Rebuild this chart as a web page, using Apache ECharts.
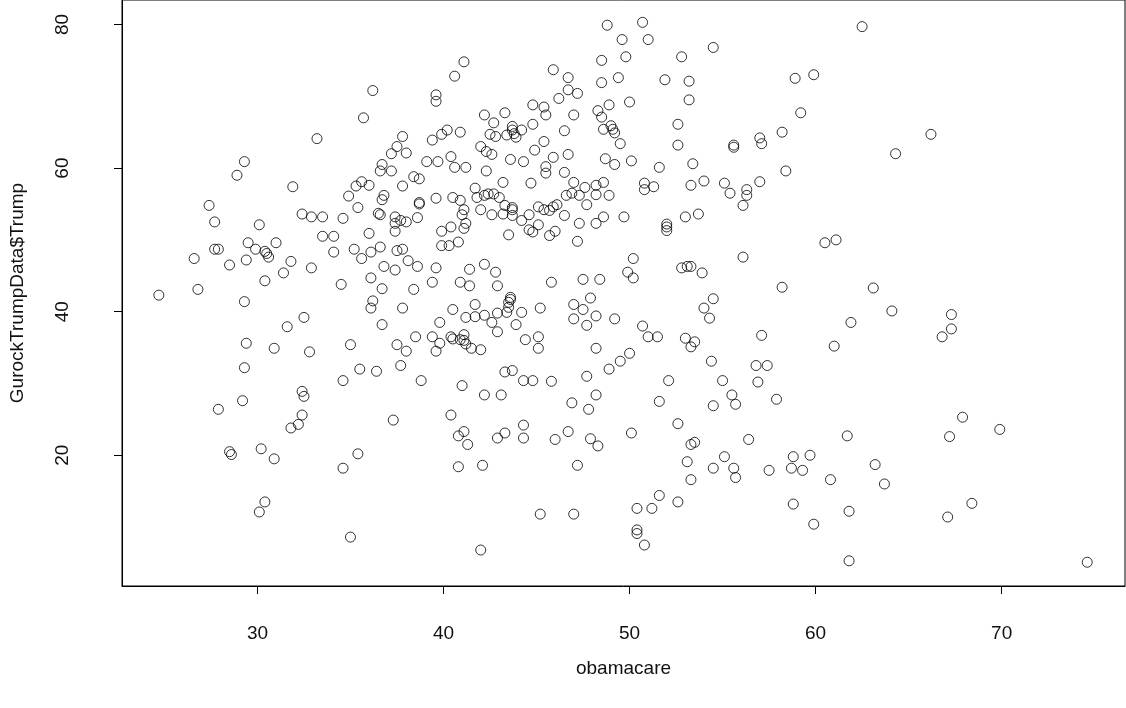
<!DOCTYPE html>
<html>
<head>
<meta charset="utf-8">
<script src="https://cdn.jsdelivr.net/npm/echarts@6/dist/echarts.min.js"></script>
<style>
html,body{margin:0;padding:0;background:#fff;}
#chart{width:1126px;height:708px;}
</style>
</head>
<body>
<div id="chart"></div>
<script>
// x values: obamacare
const obamacare = [
36.2,35.7,33.2,29.3,28.9,31.9,35.3,35.6,36.0,
48.8,49.6,48.5,49.4,48.5,45.9,46.7,46.7,47.2,46.2,41.1,40.6,39.6,39.6,44.8,45.4,45.5,47.0,48.9,48.3,48.5,
42.2,43.3,42.7,42.5,42.8,43.7,43.4,43.7,43.8,43.9,44.2,44.8,46.5,48.6,49.0,49.1,49.2,49.5,40.2,39.9,39.4,40.9,
37.8,37.5,37.2,38.0,36.7,36.6,37.2,37.8,38.4,38.7,39.1,39.7,40.4,40.6,41.2,42.0,42.3,42.6,42.3,41.7,43.2,43.6,
44.3,44.9,45.4,45.9,45.5,45.5,46.7,46.5,47.0,44.7,48.7,49.2,47.6,48.2,48.6,
50.7,51.0,49.8,52.8,54.5,62.5,51.9,53.2,58.9,59.9,50.0,53.2,59.2,52.6,58.2,57.0,57.1,55.6,55.6,52.6,50.1,51.6,
53.4,58.4,50.8,50.8,51.3,53.3,54.0,55.1,56.3,57.0,
66.2,64.3,
34.9,35.4,27.4,27.7,30.1,32.4,32.9,33.5,34.6,33.5,34.1,36.0,29.5,29.9,30.4,30.5,30.6,31.0,27.7,27.9,26.6,28.5,
29.4,31.8,31.4,32.9,30.4,34.1,35.2,35.6,36.1,34.5,36.1,24.7,26.8,29.3,36.2,36.1,32.5,31.6,29.4,30.9,32.8,35.0,
29.3,35.5,34.6,
36.8,36.7,38.7,38.7,39.6,40.5,40.9,41.8,42.2,42.4,42.7,43.0,41.1,41.0,42.0,42.6,43.3,43.7,43.7,43.2,43.7,44.2,
44.6,45.1,45.4,45.7,45.9,46.1,46.5,46.6,46.9,47.3,48.2,48.9,47.7,48.6,48.2,47.3,49.7,47.2,45.1,44.6,44.8,45.7,
46.0,43.5,36.5,36.6,37.4,37.7,37.4,38.0,38.6,37.4,39.9,40.4,41.2,41.1,39.9,40.3,40.8,36.6,37.5,37.8,38.1,38.6,
36.8,37.4,39.6,39.4,38.4,36.7,37.8,36.7,42.2,41.4,42.8,40.9,41.4,42.9,45.8,47.5,48.4,43.6,43.6,43.5,43.5,43.4,
44.2,43.9,45.2,41.7,40.5,41.2,41.7,42.2,42.9,42.6,42.9,39.8,39.4,40.4,40.5,39.8,39.6,41.1,41.1,41.2,40.9,41.5,
42.0,38.5,37.5,38.0,44.4,45.1,45.1,47.0,47.9,47.5,47.0,47.7,48.2,49.2,48.2,48.9,49.5,36.4,37.7,38.8,41.0,43.3,
43.7,44.3,44.8,45.8,47.7,
55.4,56.3,56.1,53.0,53.7,52.0,52.0,52.0,50.2,49.9,50.2,52.8,53.1,53.3,53.9,56.1,60.5,61.1,58.2,54.5,54.0,54.3,
50.7,51.0,51.5,53.0,53.5,53.3,57.1,61.9,61.0,50.0,54.4,56.8,57.4,52.1,55.0,56.9,
63.1,64.1,67.3,67.3,66.8,
32.4,32.5,29.2,27.9,32.4,32.2,31.8,28.5,28.6,30.2,30.9,35.4,34.6,30.4,30.1,35.0,
42.2,43.1,48.2,46.9,47.8,37.3,40.4,41.1,40.8,41.3,42.9,43.3,44.3,44.3,46.0,46.7,47.9,48.3,40.8,42.1,47.2,45.2,
47.0,42.0,
55.5,55.7,54.5,51.6,57.9,52.6,50.1,53.3,53.5,56.4,61.7,55.1,53.1,54.5,55.6,55.7,53.3,57.5,58.8,58.7,59.3,59.7,
60.8,51.6,50.4,51.2,52.6,50.4,50.4,50.8,58.8,59.9,61.8,61.8,
67.9,67.2,69.9,63.2,63.7,68.4,67.1,74.6
];
// y values: GurockTrumpData$Trump
const trump = [
70.8,67.0,64.1,60.9,59.0,57.4,57.5,58.1,57.6,
79.9,77.9,75.0,72.6,71.9,73.7,72.6,70.9,70.4,69.7,74.8,72.8,70.2,69.3,68.8,68.5,67.4,67.4,68.8,68.0,67.1,
67.4,67.7,66.3,64.7,64.4,65.8,64.6,65.3,64.8,64.3,65.3,66.1,65.2,65.4,65.9,65.4,64.9,63.4,65.3,64.7,63.9,65.0,
64.4,63.0,62.0,62.1,60.5,59.6,59.6,57.5,58.8,58.5,60.9,60.9,61.6,60.1,60.1,63.0,62.3,61.9,59.6,57.2,58.0,61.2,
60.9,62.5,63.7,61.5,60.2,59.3,61.9,59.4,58.0,57.9,61.3,60.5,57.3,57.6,58.0,
80.3,77.9,75.5,75.5,76.8,79.7,72.3,72.1,72.5,73.0,69.2,69.5,67.7,66.1,65.0,64.2,63.4,63.2,62.9,63.2,61.0,60.1,
60.6,59.6,57.9,57.0,57.4,57.6,58.2,57.9,57.0,58.1,
64.7,62.0,
56.1,54.5,54.8,52.5,52.1,53.6,53.2,53.2,53.0,50.5,50.5,50.9,49.6,48.7,48.4,48.1,47.6,49.6,48.7,48.7,47.4,46.5,
47.2,47.0,45.4,46.1,44.3,48.3,48.7,47.4,48.3,43.8,44.7,42.3,43.1,41.4,41.5,40.5,39.2,37.9,35.6,34.9,34.4,35.4,
32.2,32.0,30.4,
56.2,55.6,55.2,55.0,55.8,55.9,55.5,55.9,56.2,56.4,56.4,55.9,54.2,53.5,54.2,53.5,54.8,54.5,54.2,53.6,53.4,52.7,
53.5,54.6,54.2,54.1,54.6,54.9,53.4,56.2,56.5,56.2,56.3,56.2,54.9,53.2,52.3,52.3,53.2,49.8,52.1,51.4,51.1,50.6,
51.2,50.7,53.7,53.5,53.2,52.7,52.3,52.5,53.1,51.2,51.2,51.8,52.3,51.6,49.2,49.2,49.7,49.0,48.5,48.7,47.1,46.3,
46.3,45.8,46.1,44.1,43.1,43.2,40.5,38.2,46.6,45.9,45.5,44.1,43.6,43.6,44.1,44.5,44.5,42.0,41.7,41.3,40.6,39.9,
39.9,38.2,40.5,41.0,40.3,39.2,39.3,39.5,39.8,38.5,37.2,38.5,36.5,36.5,36.2,35.6,34.5,36.8,36.0,35.5,36.1,34.9,
34.7,36.5,35.4,34.5,36.1,36.5,34.9,41.0,41.9,40.3,39.0,38.1,39.4,39.0,34.9,32.0,33.1,31.7,32.5,30.4,29.7,31.6,
31.8,30.4,30.4,30.3,31.0,
56.5,56.2,54.8,53.2,53.6,52.2,51.8,51.3,47.4,45.5,44.7,46.1,46.3,46.3,45.4,47.6,49.6,50.0,43.4,41.8,40.5,39.1,
38.0,36.5,36.5,36.3,35.8,35.1,36.7,38.5,35.2,34.2,33.1,32.5,32.5,30.4,30.4,30.2,
43.3,40.1,39.6,37.6,36.5,
28.9,28.2,27.6,26.4,25.6,24.3,23.8,20.5,20.1,20.9,19.5,20.2,18.2,13.5,12.1,8.6,
28.4,28.4,28.4,27.3,26.4,24.9,25.6,23.3,22.7,21.5,22.4,23.1,24.2,22.4,22.2,23.3,22.3,21.3,18.4,18.6,18.6,11.8,
11.8,6.8,
28.4,27.1,26.9,27.5,27.8,24.4,23.1,21.5,21.8,22.2,22.7,19.8,19.1,18.2,18.2,16.9,16.6,17.9,19.8,18.2,17.9,20.0,
16.6,14.4,12.6,12.6,13.5,9.6,9.1,7.5,13.2,10.4,12.2,5.3,
25.3,22.6,23.6,18.7,16.0,13.3,11.4,5.1
];
const xTicks = [30, 40, 50, 60, 70];
const yTicks = [20, 40, 60, 80];
const xRange = [22.72, 76.63];
const yRange = [1.79, 83.41];

const points = obamacare.map((x, i) => [x, trump[i]]);
const font = "'Liberation Sans', Arial, sans-serif";
const fs = 19;

const chart = echarts.init(document.getElementById('chart'), null, {renderer: 'canvas'});
chart.setOption({
  animation: false,
  backgroundColor: '#ffffff',
  grid: {
    left: 122, right: 1, top: -1, bottom: 122,
    show: true, borderColor: '#000', borderWidth: 1, backgroundColor: 'transparent'
  },
  xAxis: {
    type: 'value',
    min: xRange[0], max: xRange[1],
    name: 'obamacare',
    nameLocation: 'middle',
    nameGap: 73,
    nameTextStyle: {fontFamily: font, fontSize: fs, color: '#111'},
    axisLine: {show: true, onZero: false, lineStyle: {color: '#000', width: 1}},
    axisTick: {show: true, length: 8, customValues: xTicks, lineStyle: {color: '#000', width: 1}},
    axisLabel: {customValues: xTicks, margin: 38, fontFamily: font, fontSize: fs, color: '#111'},
    splitLine: {show: false}
  },
  yAxis: {
    type: 'value',
    min: yRange[0], max: yRange[1],
    name: 'GurockTrumpData$Trump',
    nameLocation: 'middle',
    nameRotate: 90,
    nameGap: 95,
    nameTextStyle: {fontFamily: font, fontSize: fs, color: '#111'},
    axisLine: {show: true, onZero: false, lineStyle: {color: '#000', width: 1}},
    axisTick: {show: true, length: 8, customValues: yTicks, lineStyle: {color: '#000', width: 1}},
    axisLabel: {customValues: yTicks, rotate: 90, margin: 50, fontFamily: font, fontSize: fs, color: '#111'},
    splitLine: {show: false}
  },
  series: [{
    type: 'scatter',
    data: points,
    symbol: 'circle',
    symbolSize: 10,
    itemStyle: {color: 'rgba(0,0,0,0)', borderColor: '#000', borderWidth: 1},
    emphasis: {disabled: true},
    silent: true
  }]
});
</script>
</body>
</html>
